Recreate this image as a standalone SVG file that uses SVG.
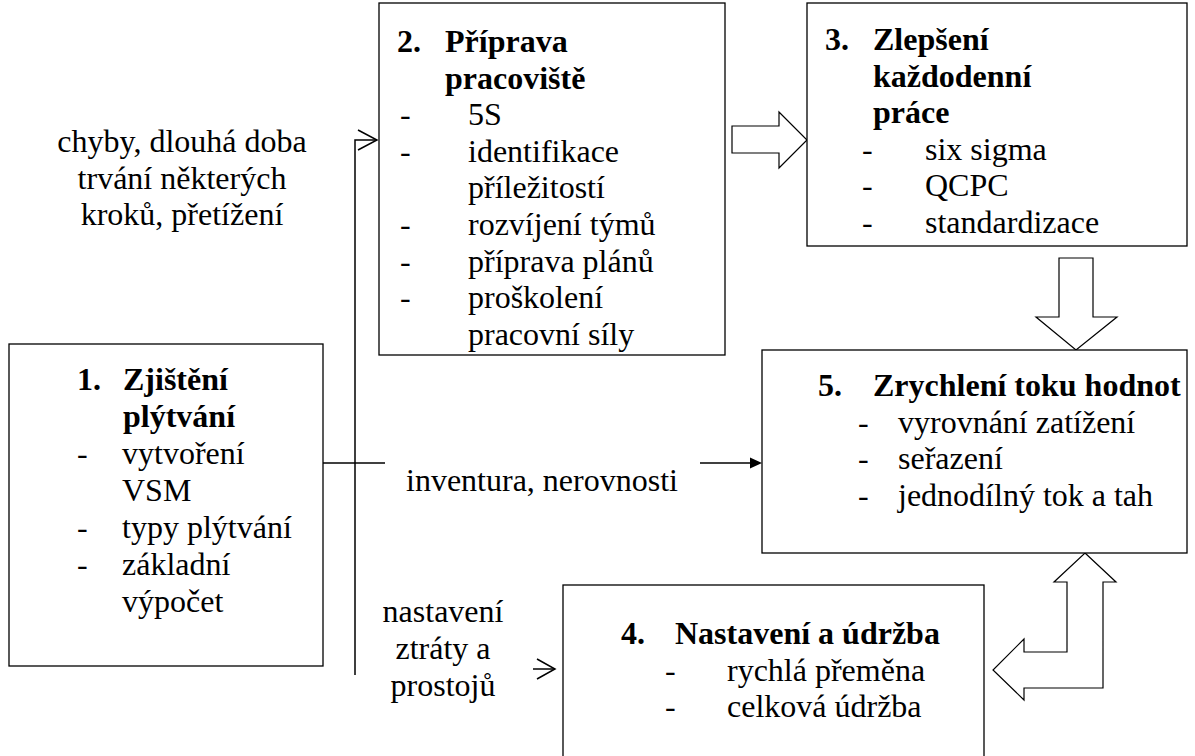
<svg xmlns="http://www.w3.org/2000/svg" width="1195" height="756" viewBox="0 0 1195 756">
<style>
.box{fill:#fff;stroke:#000;stroke-width:1.3}
.t{font-family:"Liberation Serif","Times New Roman",serif;font-size:32px;fill:#000}
.b{font-weight:bold}
.m{text-anchor:middle}
.blk{fill:#fff;stroke:#000;stroke-width:1.2;stroke-linejoin:miter}
.ln{stroke:#000;stroke-width:1.5;fill:none}
</style>
<rect width="1195" height="756" fill="#fff"/>
<g id="connectors">
<polyline class="ln" points="377,140 355,140 355,675"/>
<polyline class="ln" points="358,130 377,140 358,150"/>
<line class="ln" x1="323" y1="463" x2="385" y2="463"/>
<line class="ln" x1="700" y1="463" x2="752" y2="463"/>
<polygon points="750,457.5 762,463 750,468.5" fill="#000"/>
<line class="ln" x1="533" y1="669" x2="555" y2="669"/>
<polyline class="ln" points="537,659 555,669 537,679"/>
<polygon class="blk" points="732,126 779,126 779,112 807,140 779,168 779,153 732,153"/>
<polygon class="blk" points="1059,258 1093,258 1093,317 1117,317 1076,350 1036,317 1059,317"/>
<polygon class="blk" points="1085,553 1116,582 1103,582 1103,688 1024,688 1024,700 993,670 1024,639 1024,652 1067,652 1067,582 1054,582"/>
</g>
<g id="labels">
<text class="t m" x="182" y="152">chyby, dlouhá doba</text>
<text class="t m" x="182" y="189">trvání některých</text>
<text class="t m" x="182" y="225">kroků, přetížení</text>
<text class="t" x="406" y="491">inventura, nerovnosti</text>
<text class="t m" x="443" y="622">nastavení</text>
<text class="t m" x="443" y="659">ztráty a</text>
<text class="t m" x="443" y="696">prostojů</text>
</g>
<g id="node1">
<rect class="box" x="9" y="344" width="314" height="322"/>
<text class="t b" x="77" y="390">1.</text>
<text class="t b" x="123" y="390">Zjištění</text>
<text class="t b" x="123" y="427">plýtvání</text>
<text class="t" x="77" y="464">-</text>
<text class="t" x="122" y="464">vytvoření</text>
<text class="t" x="122" y="501">VSM</text>
<text class="t" x="77" y="538">-</text>
<text class="t" x="122" y="538">typy plýtvání</text>
<text class="t" x="77" y="575">-</text>
<text class="t" x="122" y="575">základní</text>
<text class="t" x="122" y="612">výpočet</text>
</g>
<g id="node2">
<rect class="box" x="379" y="3" width="346" height="352"/>
<text class="t b" x="397" y="52">2.</text>
<text class="t b" x="445" y="52">Příprava</text>
<text class="t b" x="445" y="88.6">pracoviště</text>
<text class="t" x="400" y="125.2">-</text>
<text class="t" x="468" y="125.2">5S</text>
<text class="t" x="400" y="161.8">-</text>
<text class="t" x="468" y="161.8">identifikace</text>
<text class="t" x="468" y="198.4">příležitostí</text>
<text class="t" x="400" y="235">-</text>
<text class="t" x="468" y="235">rozvíjení týmů</text>
<text class="t" x="400" y="271.6">-</text>
<text class="t" x="468" y="271.6">příprava plánů</text>
<text class="t" x="400" y="308.2">-</text>
<text class="t" x="468" y="308.2">proškolení</text>
<text class="t" x="468" y="344.8">pracovní síly</text>
</g>
<g id="node3">
<rect class="box" x="807" y="3" width="380" height="243"/>
<text class="t b" x="825" y="50">3.</text>
<text class="t b" x="873" y="50">Zlepšení</text>
<text class="t b" x="873" y="86.6">každodenní</text>
<text class="t b" x="873" y="123.2">práce</text>
<text class="t" x="862" y="159.8">-</text>
<text class="t" x="925" y="159.8">six sigma</text>
<text class="t" x="862" y="196.4">-</text>
<text class="t" x="925" y="196.4">QCPC</text>
<text class="t" x="862" y="233">-</text>
<text class="t" x="925" y="233">standardizace</text>
</g>
<g id="node5">
<rect class="box" x="762" y="350" width="425" height="203"/>
<text class="t b" x="818" y="396">5.</text>
<text class="t b" x="873" y="396">Zrychlení toku hodnot</text>
<text class="t" x="858" y="432.6">-</text>
<text class="t" x="898" y="432.6">vyrovnání zatížení</text>
<text class="t" x="858" y="469.2">-</text>
<text class="t" x="898" y="469.2">seřazení</text>
<text class="t" x="858" y="505.8">-</text>
<text class="t" x="898" y="505.8">jednodílný tok a tah</text>
</g>
<g id="node4">
<rect class="box" x="563" y="585" width="421" height="190"/>
<text class="t b" x="621" y="644">4.</text>
<text class="t b" x="675" y="644">Nastavení a údržba</text>
<text class="t" x="665" y="680.6">-</text>
<text class="t" x="727" y="680.6">rychlá přeměna</text>
<text class="t" x="665" y="717.2">-</text>
<text class="t" x="727" y="717.2">celková údržba</text>
</g>
</svg>
